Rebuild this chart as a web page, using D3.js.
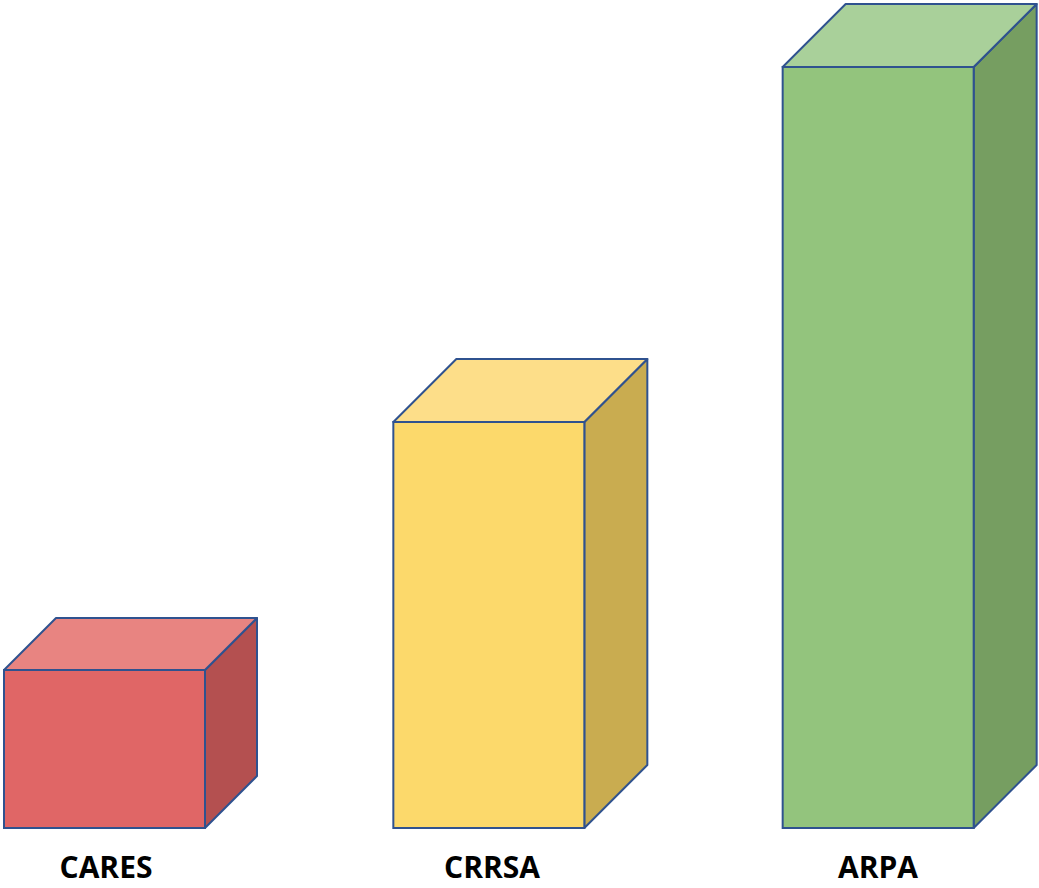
<!DOCTYPE html>
<html>
<head>
<meta charset="utf-8">
<script src="https://cdn.jsdelivr.net/npm/d3@7"></script>
<style>
  html, body { margin: 0; padding: 0; background: #ffffff; }
  svg { display: block; }
</style>
</head>
<body>
<script>
// Relief programmes and their relative funding levels
const categories = ["CARES", "CRRSA", "ARPA"];
const values = [15.8, 40.6, 76.1];

// Per-bar appearance: front, top and side face colours
const frontColors = ["#E06666", "#FCD96B", "#93C47D"];
const topColors   = ["#E88481", "#FDDE89", "#A9D09A"];
const sideColors  = ["#B45050", "#C9AC50", "#769E61"];
const barWidths   = [201, 191, 191];
const barDepths   = [52, 63, 63];

const W = 1039, H = 888;
const baseline = 828;

const svg = d3.select("body").append("svg")
  .attr("width", W).attr("height", H);

const x = d3.scaleBand()
  .domain(categories)
  .range([4, 1172])
  .paddingInner(0).paddingOuter(0);

const y = d3.scaleLinear()
  .domain([0, d3.max(values)])
  .range([baseline, 67]);

const labelX = d3.scalePoint()
  .domain(categories)
  .range([106, 878]);

const bars = categories.map((c, i) => ({
  name: c, value: values[i], i,
  x0: x(c), w: barWidths[i], d: barDepths[i],
  yTop: y(values[i])
}));

const stroke = "#2F528F";
const sw = 2;

const g = svg.selectAll("g.bar").data(bars).join("g").attr("class", "bar");

// side face
g.append("path")
  .attr("d", b => {
    const xr = b.x0 + b.w;
    return `M${xr},${b.yTop} L${xr + b.d},${b.yTop - b.d} L${xr + b.d},${baseline - b.d} L${xr},${baseline} Z`;
  })
  .attr("fill", b => sideColors[b.i])
  .attr("stroke", stroke).attr("stroke-width", sw).attr("stroke-linejoin", "round");

// top face
g.append("path")
  .attr("d", b => {
    const xr = b.x0 + b.w;
    return `M${b.x0},${b.yTop} L${b.x0 + b.d},${b.yTop - b.d} L${xr + b.d},${b.yTop - b.d} L${xr},${b.yTop} Z`;
  })
  .attr("fill", b => topColors[b.i])
  .attr("stroke", stroke).attr("stroke-width", sw).attr("stroke-linejoin", "round");

// front face
g.append("rect")
  .attr("x", b => b.x0)
  .attr("y", b => b.yTop)
  .attr("width", b => b.w)
  .attr("height", b => baseline - b.yTop)
  .attr("fill", b => frontColors[b.i])
  .attr("stroke", stroke).attr("stroke-width", sw);

// category labels
svg.selectAll("text.label").data(bars).join("text")
  .attr("class", "label")
  .attr("x", b => labelX(b.name))
  .attr("y", 878)
  .attr("text-anchor", "middle")
  .attr("font-family", "'Open Sans', 'Noto Sans', sans-serif")
  .attr("font-weight", 700)
  .attr("font-size", 30)
  .attr("fill", "#000")
  .text(b => b.name);
</script>
</body>
</html>
